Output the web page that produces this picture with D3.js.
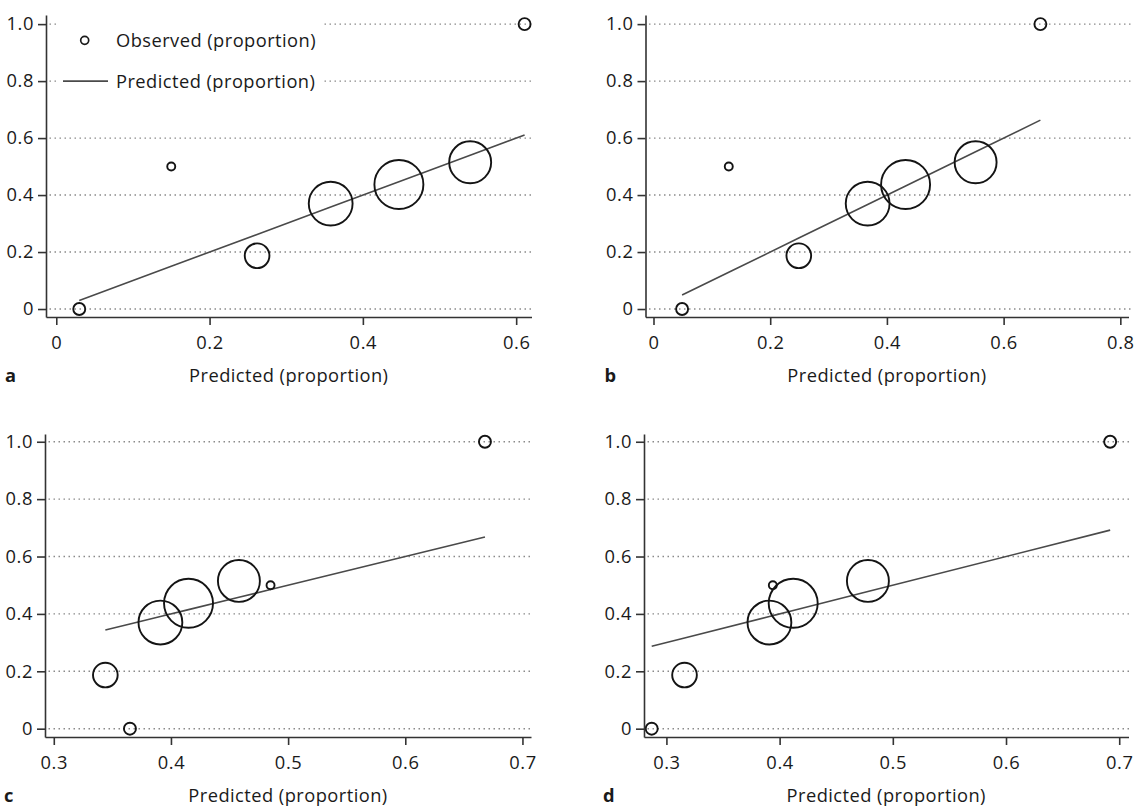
<!DOCTYPE html>
<html><head><meta charset="utf-8">
<script src="https://cdn.jsdelivr.net/npm/d3@7"></script>
<style>
body{margin:0;background:#fff}
svg{display:block}
text{font-family:"Open Sans",sans-serif;fill:#1a1a1a}
</style>
</head><body><svg id="chart" width="1134" height="809"></svg>
<script>
// ---- data ----
const observed   = [0, 0.5, 0.187, 0.37, 0.437, 0.515, 1.0];
const groupN     = [4.5, 2, 19, 60, 75, 55, 4.5];
const predictedA = [0.030, 0.150, 0.262, 0.358, 0.447, 0.540, 0.611];
const predictedB = [0.049, 0.129, 0.249, 0.367, 0.432, 0.552, 0.663];
const predictedC = [0.365, 0.485, 0.344, 0.391, 0.415, 0.458, 0.668];
const predictedD = [0.287, 0.394, 0.316, 0.391, 0.412, 0.478, 0.692];
const xTicksA = [0, 0.2, 0.4, 0.6];
const xTickLabelsA = ["0", "0.2", "0.4", "0.6"];
const xTicksB = [0, 0.2, 0.4, 0.6, 0.8];
const xTickLabelsB = ["0", "0.2", "0.4", "0.6", "0.8"];
const xTicksCD = [0.3, 0.4, 0.5, 0.6, 0.7];
const xTickLabelsCD = ["0.3", "0.4", "0.5", "0.6", "0.7"];
const yTicks = [0, 0.2, 0.4, 0.6, 0.8, 1.0];
const yTickLabels = ["0", "0.2", "0.4", "0.6", "0.8", "1.0"];
const panelLetters = ["a", "b", "c", "d"];
const xTitle = "Predicted (proportion)";
const legendLabels = ["Observed (proportion)", "Predicted (proportion)"];

// ---- layout ----
const panels = [
  {pred: predictedA, ticks: xTicksA, labels: xTickLabelsA, left: 46,  right: 531.5, top: 15,  bottom: 317, xd: [-0.0134, 0.620], yd: [-0.028, 1.032], legend: true},
  {pred: predictedB, ticks: xTicksB, labels: xTickLabelsB, left: 645.5, right: 1128.5, top: 15, bottom: 317, xd: [-0.0137, 0.814], yd: [-0.028, 1.032]},
  {pred: predictedC, ticks: xTicksCD, labels: xTickLabelsCD, left: 45, right: 531, top: 434, bottom: 737, xd: [0.2925, 0.7073], yd: [-0.029, 1.027]},
  {pred: predictedD, ticks: xTicksCD, labels: xTickLabelsCD, left: 644, right: 1128.5, top: 434, bottom: 737, xd: [0.2802, 0.7082], yd: [-0.029, 1.027]}
];

const svg = d3.select("#chart");
const rScale = d3.scaleSqrt().domain([0, d3.max(groupN)]).range([0, 24.5]);
const FS = 18.3;

panels.forEach((p, i) => {
  const x = d3.scaleLinear().domain(p.xd).range([p.left, p.right]);
  const y = d3.scaleLinear().domain(p.yd).range([p.bottom, p.top]);
  const g = svg.append("g");

  // gridlines
  g.selectAll("line.grid").data(yTicks).join("line")
    .attr("x1", p.left + 3.5).attr("x2", p.right + 2)
    .attr("y1", d => y(d)).attr("y2", d => y(d))
    .attr("stroke", "#8a8a8a").attr("stroke-width", 1.4)
    .attr("stroke-dasharray", "1.5,3.5");

  // legend (panel a)
  if (p.legend) {
    g.append("rect").attr("x", p.left + 11).attr("y", 17).attr("width", 266).attr("height", 80).attr("fill", "#fff");
    g.append("circle").attr("cx", p.left + 38.7).attr("cy", y(0.943)).attr("r", 4)
      .attr("fill", "none").attr("stroke", "#1a1a1a").attr("stroke-width", 1.7);
    g.append("line").attr("x1", p.left + 17).attr("x2", p.left + 62)
      .attr("y1", y(0.8)).attr("y2", y(0.8)).attr("stroke", "#4a4a4a").attr("stroke-width", 1.6);
    g.selectAll("text.leg").data(legendLabels).join("text")
      .attr("x", p.left + 70).attr("y", (d, k) => k === 0 ? y(0.943) : y(0.8))
      .attr("dy", "0.35em").attr("font-size", FS).attr("letter-spacing", "0.45px").text(d => d);
  }

  // predicted line
  const linePts = p.pred.map(v => [v, v]).sort((a, b) => a[0] - b[0]);
  g.append("path").datum(linePts)
    .attr("d", d3.line().x(d => x(d[0])).y(d => y(d[1])))
    .attr("fill", "none").attr("stroke", "#4a4a4a").attr("stroke-width", 1.6);

  // observed circles
  g.selectAll("circle.obs").data(observed.map((o, k) => ({o, p: p.pred[k], n: groupN[k]}))).join("circle")
    .attr("cx", d => x(d.p)).attr("cy", d => y(d.o)).attr("r", d => rScale(d.n))
    .attr("fill", "none").attr("stroke", "#141414").attr("stroke-width", 1.9);

  // axes
  const xAxis = d3.axisBottom(x).tickValues(p.ticks).tickFormat((d, k) => p.labels[k]).tickSize(8).tickPadding(11).tickSizeOuter(0);
  const yAxis = d3.axisLeft(y).tickValues(yTicks).tickFormat((d, k) => yTickLabels[k]).tickSize(8).tickPadding(4).tickSizeOuter(0);
  const gx = g.append("g").attr("transform", `translate(0,${p.bottom})`).call(xAxis);
  const gy = g.append("g").attr("transform", `translate(${p.left},0)`).call(yAxis);
  [gx, gy].forEach(a => {
    a.select(".domain").attr("stroke", "#333").attr("stroke-width", 1.6);
    a.selectAll(".tick line").attr("stroke", "#333").attr("stroke-width", 1.6);
    a.selectAll(".tick text").attr("font-size", FS).attr("font-family", "Open Sans, sans-serif").attr("fill", "#1a1a1a").attr("letter-spacing", "0.6px");
  });

  // x title and panel letter
  const titleY = p.bottom + 59;
  g.append("text").attr("x", (p.left + p.right) / 2).attr("y", titleY).attr("dy", "0.35em")
    .attr("text-anchor", "middle").attr("font-size", FS).attr("letter-spacing", "0.45px").text(xTitle);
  g.append("text").attr("x", p.left - 41).attr("y", titleY).attr("dy", "0.35em")
    .attr("font-size", FS).attr("font-weight", "bold").text(panelLetters[i]);
});
</script>
</body></html>
